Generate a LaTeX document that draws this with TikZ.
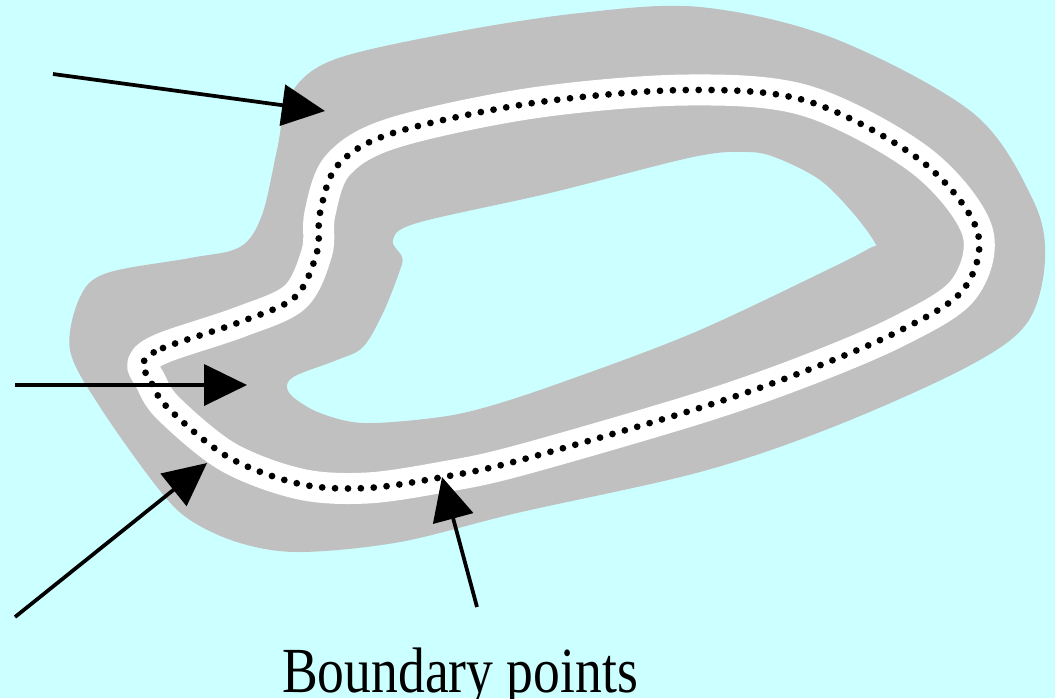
\documentclass[tikz,border=0pt]{standalone}
\usepackage{fontspec}
\setmainfont{Liberation Serif}
\usepackage{xcolor}
\usepackage{tikz}
\usetikzlibrary{arrows.meta}

\definecolor{bgcyan}{RGB}{204,255,255}
\definecolor{bandgray}{RGB}{192,192,192}

\tikzset{
  band/.style={line width=0.62cm, white, line join=round},
  boundary/.style={line width=0.135cm, line cap=round, dash pattern=on 0pt off 0.258cm},
  pointer/.style={line width=0.075cm, >={Triangle[length=0.86cm,width=0.82cm]}},
}

\begin{document}
\begin{tikzpicture}[x=0.02cm, y=-0.02cm]
                \path[use as bounding box, fill=bgcyan] (0,0) rectangle (1055,698);
                % gray region with its hole
                \fill[bandgray, even odd rule]
                    plot[smooth cycle, tension=0.55] coordinates {(277,150) (290,95) (333,60) (450,33) (580,13) (700,7) (833,38) (973,113) (1033,200) (1045,260) (1027,323) (967,367) (833,427) (700,472) (517,513) (400,542) (300,552) (240,543) (190,520) (157,487) (100,407) (70,350) (80,297) (107,273) (190,258) (240,247) (262,215)}
                    plot[smooth cycle, tension=0.55] coordinates {(393,240) (417,223) (550,193) (693,157) (747,152) (777,158) (820,180) (853,213) (875,243) (870,248) (827,270) (693,333) (560,383) (483,408) (433,418) (363,423) (320,413) (293,397) (287,385) (297,375) (337,360) (363,347) (383,313) (400,270) (402,257)};
                % white band and the dotted boundary
                \draw[band] plot[smooth cycle, tension=0.55] coordinates {(143,363) (163,348) (240,322) (295,297) (317,252) (320,213) (338,165) (393,133) (533,103) (687,90) (807,101) (920,160) (977,230) (963,290) (897,332) (800,373) (693,410) (517,461) (443,477) (367,488) (300,484) (228,457) (168,408) (150,380)};
                \draw[boundary] plot[smooth cycle, tension=0.55] coordinates {(143,363) (163,348) (240,322) (295,297) (317,252) (320,213) (338,165) (393,133) (533,103) (687,90) (807,101) (920,160) (977,230) (963,290) (897,332) (800,373) (693,410) (517,461) (443,477) (367,488) (300,484) (228,457) (168,408) (150,380)};
                \coordinate (s1) at (53,74);
                \coordinate (p1) at (325,111);
                \coordinate (s2) at (15,385);
                \coordinate (p2) at (247,385);
                \coordinate (s3) at (15,617);
                \coordinate (p3) at (207,463);
                \coordinate (s4) at (477,607);
                \coordinate (p4) at (442,477);
                \node[anchor=base, inner sep=0pt] at (460,692) (lbl) {\fontsize{30.5}{36}\selectfont\scalebox{1}[1.2]{Boundary points}};
                \path[->, pointer]
                    (s1) edge (p1)
                    (s2) edge (p2)
                    (s3) edge (p3)
                    (s4) edge (p4);
            \end{tikzpicture}
\end{document}
